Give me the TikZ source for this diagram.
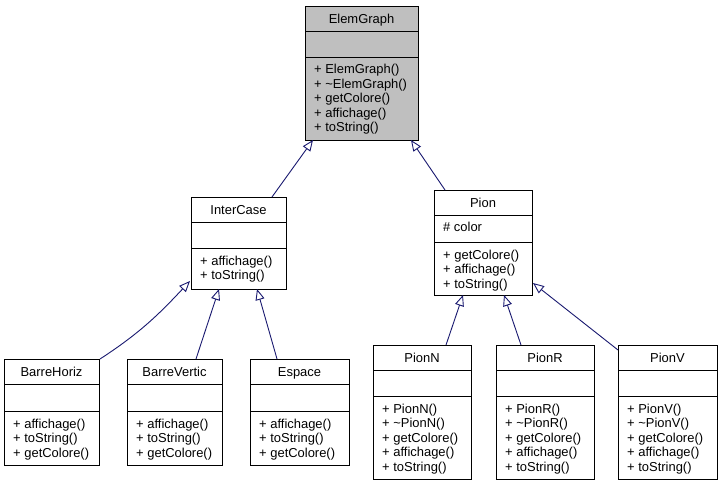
\documentclass[tikz,border=0pt]{standalone}
\usepackage{fontspec}
\setmainfont{Liberation Sans}
\usetikzlibrary{arrows.meta}

\definecolor{edgeblue}{HTML}{191970}
\definecolor{basefill}{HTML}{BFBFBF}

\tikzset{
  classframe/.style={draw=black, line width=0.9bp, fill=white, anchor=north west,
                     inner sep=0pt, outer sep=0pt},
  basecls/.style={fill=basefill},
  sepline/.style={draw=black, line width=0.9bp},
  txt/.style={inner sep=0pt, font=\fontsize{13}{15}\selectfont},
  member/.style={txt, anchor=base west},
  ctitle/.style={txt, anchor=base},
  inherit/.style={draw=edgeblue, line width=0.9bp,
                  -{Triangle[open, length=11bp, width=9bp]}},
}

% class frame: name, left, top, width, height, extra style
\newcommand{\umlframe}[6]{%
  \node[classframe,#6,minimum width=#4bp,minimum height=#5bp] (#1) at (#2,#3) {};}
% title compartment: name, title
\newcommand{\umltitle}[2]{%
  \draw[sepline] ([yshift=-25bp]#1.north west) -- ([yshift=-25bp]#1.north east);
  \node[ctitle] (#1-title) at ([yshift=-17.5bp]#1.north) {#2};}
% attribute line: name, text
\newcommand{\umlattr}[2]{%
  \node[member] (#1-a0) at ([xshift=9bp,yshift=-41bp]#1.north west) {#2};}
% operation compartment: name, separator offset, list of operations
\newcommand{\umlmethods}[3]{%
  \draw[sepline] ([yshift=-#2bp]#1.north west) -- ([yshift=-#2bp]#1.north east);
  \foreach \m [count=\i from 0] in {#3}{%
    \pgfmathsetmacro\yy{#2+17+14.5*\i}
    \node[member] (#1-m\i) at ([xshift=9bp,yshift=-\yy bp]#1.north west) {\m};}}

\begin{document}
\begin{tikzpicture}[x=1bp,y=-1bp]
\useasboundingbox[fill=white] (0,0) rectangle (723,485);

% base class
\umlframe{ElemGraph}{305}{6}{113}{134}{basecls}
\umltitle{ElemGraph}{ElemGraph}
\umlmethods{ElemGraph}{51}{+ ElemGraph(),+ \textasciitilde ElemGraph(),+ getColore(),+ affichage(),+ toString()}

% middle row
\umlframe{InterCase}{191}{197}{95}{92}{}
\umltitle{InterCase}{InterCase}
\umlmethods{InterCase}{51}{+ affichage(),+ toString()}

\umlframe{Pion}{434}{190}{98}{105}{}
\umltitle{Pion}{Pion}
\umlattr{Pion}{\# color}
\umlmethods{Pion}{52}{+ getColore(),+ affichage(),+ toString()}

% bottom row, left
\umlframe{BarreHoriz}{4}{359}{95}{106}{}
\umltitle{BarreHoriz}{BarreHoriz}
\umlmethods{BarreHoriz}{52}{+ affichage(),+ toString(),+ getColore()}

\umlframe{BarreVertic}{127}{359}{95}{106}{}
\umltitle{BarreVertic}{BarreVertic}
\umlmethods{BarreVertic}{52}{+ affichage(),+ toString(),+ getColore()}

\umlframe{Espace}{250}{359}{99}{106}{}
\umltitle{Espace}{Espace}
\umlmethods{Espace}{52}{+ affichage(),+ toString(),+ getColore()}

% bottom row, right
\umlframe{PionN}{373}{345}{98}{134}{}
\umltitle{PionN}{PionN}
\umlmethods{PionN}{51}{+ PionN(),+ \textasciitilde PionN(),+ getColore(),+ affichage(),+ toString()}

\umlframe{PionR}{496}{345}{98}{134}{}
\umltitle{PionR}{PionR}
\umlmethods{PionR}{51}{+ PionR(),+ \textasciitilde PionR(),+ getColore(),+ affichage(),+ toString()}

\umlframe{PionV}{618}{345}{99}{134}{}
\umltitle{PionV}{PionV}
\umlmethods{PionV}{51}{+ PionV(),+ \textasciitilde PionV(),+ getColore(),+ affichage(),+ toString()}

% inheritance
\draw[inherit] ([xshift=81bp]InterCase.north west) -- ([xshift=8bp]ElemGraph.south west);
\draw[inherit] ([xshift=11bp]Pion.north west) -- ([xshift=-7bp]ElemGraph.south east);

\draw[inherit] ([xshift=1bp]BarreHoriz.north east) to[out=33,in=-133] ([xshift=-1bp,yshift=8bp]InterCase.south west);
\draw[inherit] ([xshift=69bp]BarreVertic.north west) -- ([xshift=28bp]InterCase.south west);
\draw[inherit] ([xshift=27bp]Espace.north west) -- ([xshift=66bp]InterCase.south west);

\draw[inherit] ([xshift=73bp]PionN.north west) -- ([xshift=29bp]Pion.south west);
\draw[inherit] ([xshift=25bp]PionR.north west) -- ([xshift=70bp]Pion.south west);
\draw[inherit] ([yshift=-5bp]PionV.north west) -- ([xshift=1bp,yshift=12bp]Pion.south east);
\end{tikzpicture}
\end{document}
